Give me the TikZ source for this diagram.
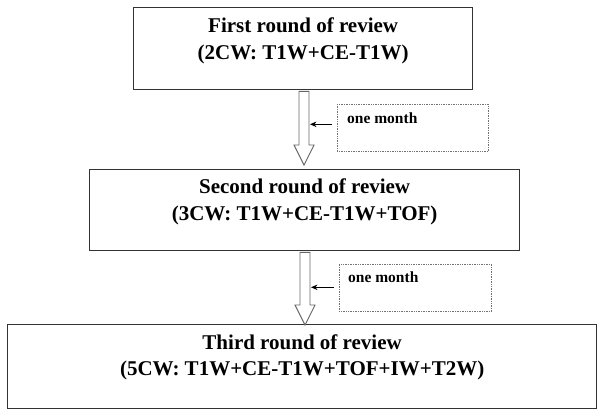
\documentclass[tikz,border=0pt]{standalone}
\usepackage{fontspec}
\setmainfont{Liberation Serif}
\usetikzlibrary{calc,arrows.meta}

\begin{document}
\begin{tikzpicture}[x=1pt,y=-1pt,
  roundbox/.style={draw=black!80, line width=1.3pt, anchor=north west, inner sep=0pt},
  roundtext/.style={font=\fontsize{21}{26.5}\selectfont\bfseries, align=center, anchor=north, inner sep=0pt},
  notebox/.style={draw=black!55, densely dotted, line width=0.7pt, anchor=north west, inner sep=0pt},
  notetext/.style={font=\fontsize{15.5}{18}\selectfont\bfseries, anchor=base west, inner sep=0pt},
  blockarrow/.style={draw=black!60, line width=0.9pt, fill=white, line join=miter},
  pointer/.style={-{Stealth[length=6.5pt,width=5.5pt]}, line width=0.9pt}
]

\useasboundingbox (0,0) rectangle (604,416);

% The three rounds of review
\node[roundbox, minimum width=339pt, minimum height=82pt] (r1) at (133,7) {};
\node[roundbox, minimum width=430pt, minimum height=81pt] (r2) at (89,169) {};
\node[roundbox, minimum width=589pt, minimum height=84pt] (r3) at (7,324) {};

\node[roundtext] (r1text) at ($(r1.north)+(0,11)$) {First round of review\\(2CW: T1W+CE-T1W)};
\node[roundtext] (r2text) at ($(r2.north)+(0,10)$) {Second round of review\\(3CW: T1W+CE-T1W+TOF)};
\node[roundtext] (r3text) at ($(r3.north)+(0,10.5)$) {Third round of review\\(5CW: T1W+CE-T1W+TOF+IW+T2W)};

% Time between the rounds
\node[notebox, minimum width=151pt, minimum height=47pt] (d1) at (337,104) {};
\node[notebox, minimum width=152pt, minimum height=47pt] (d2) at (339,264) {};

\node[notetext] (d1text) at (347,123) {one month};
\node[notetext] (d2text) at (348,282) {one month};

% Block arrows from round to round
\coordinate (a1s) at (304,0 |- r1.south);
\coordinate (a1t) at ($(304,0 |- r2.north)+(0,-4)$);
\coordinate (a2s) at (305,0 |- r2.south);
\coordinate (a2t) at ($(305,0 |- r3.north)+(0,1)$);

\draw[blockarrow] ($(a1s)+(-5,1)$) -- ($(a1t)+(-5,-20)$) -- ($(a1t)+(-10,-20)$) -- (a1t)
  -- ($(a1t)+(10,-20)$) -- ($(a1t)+(5,-20)$) -- ($(a1s)+(5,1)$) -- cycle;
\draw[blockarrow] ($(a2s)+(-5,1)$) -- ($(a2t)+(-5,-20)$) -- ($(a2t)+(-10,-20)$) -- (a2t)
  -- ($(a2t)+(10,-20)$) -- ($(a2t)+(5,-20)$) -- ($(a2s)+(5,1)$) -- cycle;

% Small arrows from the notes
\coordinate (p1) at ($(a1s)+(6,34)$);
\coordinate (p2) at ($(a2s)+(6,36)$);
\draw[pointer] (d1.west |- p1) ++(-5,0) -- (p1);
\draw[pointer] (d2.west |- p2) ++(-5,0) -- (p2);

\end{tikzpicture}
\end{document}
